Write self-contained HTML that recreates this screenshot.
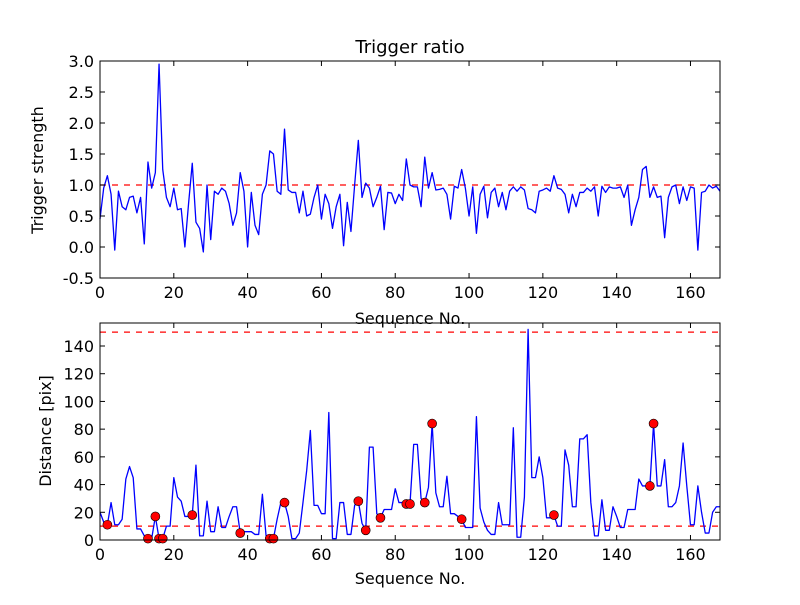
<!DOCTYPE html>
<html><head><meta charset="utf-8"><style>
body{margin:0;background:#fff;}
svg text{font-family:"DejaVu Sans","Liberation Sans",sans-serif;fill:#000;}
</style></head><body>
<svg id="chart" width="800" height="600" viewBox="0 0 800 600" xmlns="http://www.w3.org/2000/svg">
<rect width="800" height="600" fill="#fff"/>
<text x="410" y="53" font-size="18" text-anchor="middle">Trigger ratio</text>
<text x="410" y="324" font-size="16" text-anchor="middle">Sequence No.</text>
<text x="43" y="170" font-size="16" text-anchor="middle" transform="rotate(-90 43 170)">Trigger strength</text>
<text x="410" y="584" font-size="16" text-anchor="middle">Sequence No.</text>
<text x="51" y="431" font-size="16" text-anchor="middle" transform="rotate(-90 51 431)">Distance [pix]</text>
</svg>
<script>
const strength=[0.45,0.95,1.15,0.85,-0.05,0.9,0.65,0.6,0.8,0.82,0.55,0.8,0.05,1.37,0.95,1.2,2.95,1.25,0.8,0.65,0.95,0.6,0.62,0.0,0.7,1.35,0.4,0.3,-0.08,1.0,0.12,0.9,0.85,0.95,0.9,0.7,0.35,0.55,1.2,0.9,0.0,0.88,0.35,0.2,0.85,1.0,1.55,1.5,0.9,0.85,1.9,0.92,0.88,0.88,0.55,0.9,0.5,0.53,0.8,1.0,0.45,0.85,0.7,0.3,0.65,0.85,0.02,0.72,0.25,1.0,1.72,0.8,1.03,0.95,0.65,0.8,0.98,0.28,0.88,0.87,0.7,0.85,0.75,1.42,1.0,0.97,0.97,0.65,1.45,0.95,1.2,0.92,0.93,0.95,0.85,0.45,0.98,0.95,1.25,0.95,0.5,0.97,0.22,0.85,0.98,0.47,0.88,0.95,0.65,0.88,0.6,0.9,0.97,0.9,0.97,0.92,0.62,0.6,0.55,0.9,0.92,0.95,0.9,1.15,0.95,0.93,0.85,0.55,0.85,0.65,0.88,0.88,0.95,0.9,0.97,0.5,0.98,0.88,0.97,0.95,0.95,0.97,0.8,1.0,0.35,0.6,0.8,1.25,1.3,0.8,0.97,0.8,0.82,0.15,0.8,0.97,1.0,0.7,0.97,0.75,0.97,0.95,-0.05,0.88,0.9,1.0,0.95,0.98,0.9];
const distance=[20,13,11,27,11,11,15,44,53,45,8,8,3,1,1,17,1,1,10,10,45,31,28,17,17,18,54,3,3,28,6,6,24,9,9,17,24,24,5,6,6,6,4,4,33,3,1,1,15,27,27,17,1,1,5,27,50,79,25,25,19,19,92,1,1,27,27,4,4,25,28,12,7,67,67,19,16,22,22,22,37,27,27,26,26,69,69,30,27,38,84,34,24,24,46,19,19,17,15,9,9,9,89,23,13,7,4,4,27,11,11,11,81,2,2,31,152,45,45,60,45,16,16,18,10,10,65,54,24,24,73,73,76,27,3,3,29,7,7,24,17,9,9,22,22,22,44,39,39,39,84,39,39,58,24,24,27,39,70,39,11,11,39,20,5,5,20,24,24];
const markerIdx=[2,13,15,16,17,25,38,46,47,50,70,72,76,83,84,88,90,98,123,149,150];
const xTicks=[0,20,40,60,80,100,120,140,160];
const topYTicks=[-0.5,0,0.5,1,1.5,2,2.5,3];
const botYTicks=[0,20,40,60,80,100,120,140];
const topThresh=[1.0];
const botThresh=[10,150];

const NS='http://www.w3.org/2000/svg';
const svg=document.getElementById('chart');
function mk(tag,attrs,parent){const e=document.createElementNS(NS,tag);for(const k in attrs)e.setAttribute(k,attrs[k]);(parent||svg).appendChild(e);return e;}
const L=100,R=720,XMAX=168;
const xs=v=>L+(v/XMAX)*(R-L);
const topAx={t:61,b:278,min:-0.5,max:3.0};
const botAx={t:323,b:540,min:0,max:156.6};
const ys=(ax,v)=>ax.b-(v-ax.min)/(ax.max-ax.min)*(ax.b-ax.t);

function drawAxes(ax,yTicks,fmt,nm){
  const g=mk('g',{});
  
  
  xTicks.forEach(v=>{
    const x=xs(v);
    mk('line',{x1:x,x2:x,y1:ax.b,y2:ax.b-5,stroke:'#000','stroke-width':1},g);
    mk('line',{x1:x,x2:x,y1:ax.t,y2:ax.t+5,stroke:'#000','stroke-width':1},g);
    const t=mk('text',{x:x,y:ax.b+20,'font-size':16,'text-anchor':'middle'},g);
    
    
    t.textContent=v;
  });
  yTicks.forEach(v=>{
    const y=ys(ax,v);
    mk('line',{x1:L,x2:L+5,y1:y,y2:y,stroke:'#000','stroke-width':1},g);
    mk('line',{x1:R,x2:R-5,y1:y,y2:y,stroke:'#000','stroke-width':1},g);
    const t=mk('text',{x:L-6,y:y+6,'font-size':16,'text-anchor':'end'},g);
    
    
    t.textContent=fmt(v);
  });
  return g;
}
function drawLine(ax,vals,nm){
  const p=mk('polyline',{points:vals.map((v,i)=>xs(i)+','+ys(ax,v)).join(' '),fill:'none',stroke:'#0000ff','stroke-width':1.3,'stroke-linejoin':'round'});
  
  
}
function drawThresh(ax,vals){
  vals.forEach(v=>{
    const l=mk('line',{x1:L,x2:R,y1:ys(ax,v),y2:ys(ax,v),stroke:'#ff0000','stroke-width':1.3,'stroke-dasharray':'6,6'});
    
    
  });
}
function frame(ax,nm){
  const r=mk('rect',{x:L,y:ax.t,width:R-L,height:ax.b-ax.t,fill:'none',stroke:'#000','stroke-width':1});
  
  
}
drawThresh(topAx,topThresh);
drawLine(topAx,strength,'trigger-strength-line');
drawAxes(topAx,topYTicks,v=>v.toFixed(1),'top');
frame(topAx,'top');

drawThresh(botAx,botThresh);
drawLine(botAx,distance,'distance-line');
markerIdx.forEach(i=>{
  const c=mk('circle',{cx:xs(i),cy:ys(botAx,distance[i]),r:4.5,fill:'#ff0000',stroke:'#000','stroke-width':0.6});
  
  
});
drawAxes(botAx,botYTicks,v=>String(v),'bottom');
frame(botAx,'bottom');
</script>
</body></html>
